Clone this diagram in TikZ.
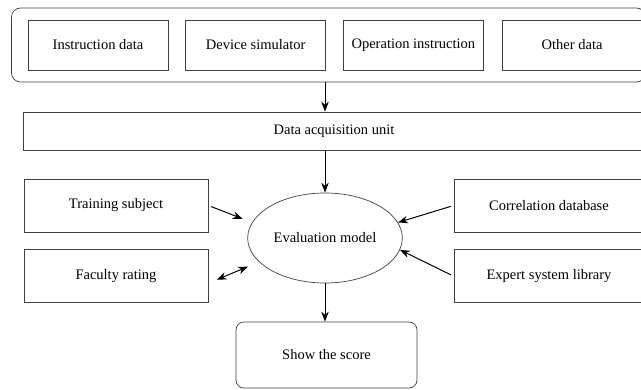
\documentclass[tikz,border=0pt]{standalone}
\usepackage{fontspec}
\setmainfont{Liberation Serif}
\usepackage{tikz}
\usetikzlibrary{shapes.geometric, arrows, arrows.meta, positioning}
\tikzstyle{block} = [rectangle, draw=black!75, line width=0.7pt, text centered, font=\fontsize{14.5}{17}\selectfont]
\tikzstyle{source} = [block, minimum width=140pt, minimum height=50pt]
\tikzstyle{side} = [block, minimum width=184pt, minimum height=53pt]
\tikzstyle{arrow} = [line width=1pt,->,>={Stealth[length=10pt,width=7.5pt]}]

\begin{document}
\begin{tikzpicture}[x=1pt, y=1pt]
\useasboundingbox (0,0) rectangle (641,389);

% Data sources
\node (sources) [draw=black!75, line width=0.7pt, rounded corners=9pt, minimum width=634pt, minimum height=74pt] at (328.5,344) {};
\node (instr) [source] at (98,344) {Instruction data};
\node (device) [source, right=17pt of instr] {Device simulator};
\node (oper) [source, right=17pt of device] {Operation instruction};
\node (other) [source, right=18pt of oper] {Other data};

% Acquisition
\node (acq) [block, minimum width=622pt, minimum height=38pt] at (334,258) {Data acquisition unit};
\coordinate (axis) at (325,0);

% Evaluation
\node (eval) [ellipse, draw=black!75, line width=0.7pt, minimum width=146pt, minimum height=90pt, font=\fontsize{14.5}{17}\selectfont] at (325,151) {Evaluation model};
\node (subject) [side] at (116,183.5) {Training subject};
\node (faculty) [side, below=17pt of subject] {Faculty rating};
\node (corr) [side, minimum width=190pt] at (549,183.5) {Correlation database};
\node (expert) [side, minimum width=190pt, below=17pt of corr] {Expert system library};
\node (score) [block, rounded corners=8pt, minimum width=181pt, minimum height=66pt] at (326.5,34) {Show the score};

% Links
\draw [arrow] (sources.south -| axis) -- (acq.north -| axis);
\draw [arrow] (acq.south -| axis) -- (eval.north);
\draw [arrow, shorten <=3pt, shorten >=10pt] (subject.east) -- (eval.168);
\draw [arrow, shorten <=3pt] (corr.west) -- (eval.12);
\draw [arrow, shorten <=3pt] (expert.west) -- (eval.-9);
\draw [arrow, <->, shorten <=9pt, shorten >=12pt] ([yshift=-7pt]faculty.east) -- (eval.200);
\draw [arrow] (eval.south) -- (score.north -| eval.south);

\end{tikzpicture}
\end{document}
